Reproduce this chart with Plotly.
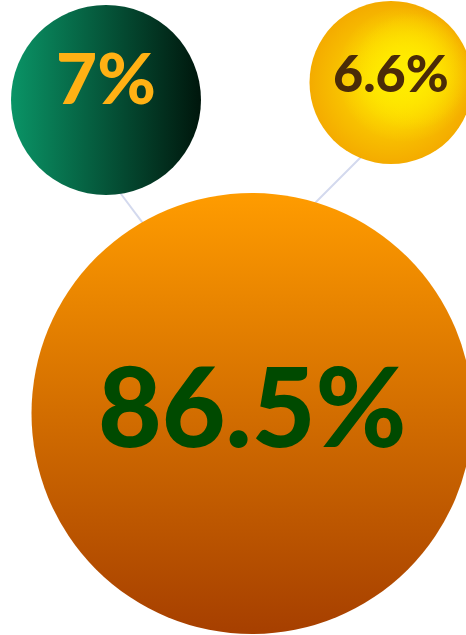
import plotly.graph_objects as go

# Share of each segment (percent)
labels = ["86.5%", "7%", "6.6%"]
values = [86.5, 7.0, 6.6]

# Bubble layout (pixel-space coordinates of the node centres)
node_x = [252, 106, 391]
node_y = [413.5, 100, 82.5]

# Link anchors: hub point under the large bubble, then the two leaf ends
link_hub = (208, 310)
link_ends_x = [88, 398]
link_ends_y = [150, 120]

W, H = 466, 635

# Styles
diameters = [441, 190, 163]
fill_colors = ["#ff9c00", "#0a9466", "#f4ab00"]
grad_colors = ["#a63f00", "#00160c", "#ffe800"]
grad_types = ["vertical", "horizontal", "radial"]
text_colors = ["#004a00", "#ffb114", "#4a2b08"]
text_sizes = [110, 71, 52]
text_shift = [10, 24, 11]

# soft highlights on the small yellow bubble (offset toward the upper right)
glow_index = 2
glow_offsets = [(14, -8), (20, -11)]
glow_diameters = [134, 116]

fig = go.Figure()

# connecting links (drawn first so the bubbles cover them)
for ex, ey in zip(link_ends_x, link_ends_y):
    fig.add_trace(go.Scatter(
        x=[link_hub[0], ex], y=[link_hub[1], ey], mode="lines",
        line=dict(color="#d3d9ee", width=2), hoverinfo="skip", showlegend=False,
    ))

# bubbles, each with its own gradient fill
for i in range(len(values)):
    fig.add_trace(go.Scatter(
        x=[node_x[i]], y=[node_y[i]], mode="markers",
        marker=dict(size=diameters[i], color=fill_colors[i], opacity=1,
                    gradient=dict(type=grad_types[i], color=grad_colors[i]),
                    line=dict(width=0)),
        hovertext=[f"{values[i]}%"], hoverinfo="text", showlegend=False,
    ))

for (dx, dy), d in zip(glow_offsets, glow_diameters):
    fig.add_trace(go.Scatter(
        x=[node_x[glow_index] + dx], y=[node_y[glow_index] + dy],
        mode="markers",
        marker=dict(size=d, color="rgba(255,232,0,0.02)",
                    gradient=dict(type="radial", color="rgba(255,238,0,1)"),
                    line=dict(width=0)),
        hoverinfo="skip", showlegend=False,
    ))

# value labels
for i in range(len(values)):
    fig.add_annotation(
        x=node_x[i], y=node_y[i], yshift=text_shift[i], text=labels[i],
        showarrow=False, xanchor="center", yanchor="middle",
        font=dict(family="Lato", size=text_sizes[i], color=text_colors[i], weight=900),
    )

fig.update_layout(
    width=W, height=H, margin=dict(l=0, r=0, t=0, b=0),
    paper_bgcolor="white", plot_bgcolor="white",
    xaxis=dict(range=[0, W], visible=False, fixedrange=True),
    yaxis=dict(range=[H, 0], visible=False, fixedrange=True),
)

fig.write_html("out.html")
